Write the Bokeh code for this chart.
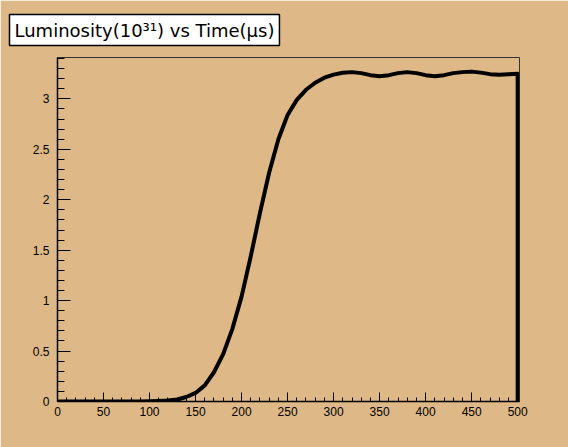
from bokeh.plotting import figure
from bokeh.models import Range1d, SingleIntervalTicker, Title
from bokeh.embed import file_html
from bokeh.resources import INLINE

# Data (time in µs, luminosity in 1e31)
time_us = [0, 10, 20, 30, 40, 50, 60, 70, 80, 90, 100, 110, 120, 130, 140, 150,
           160, 170, 180, 190, 200, 210, 220, 230, 240, 250, 260, 270, 280, 290,
           300, 310, 320, 330, 340, 350, 360, 370, 380, 390, 400, 410, 420, 430,
           440, 450, 460, 470, 480, 490, 500, 500]
luminosity = [0.0, 0.0, 0.0, 0.0, 0.0, 0.0, 0.0, 0.0, 0.0, 0.0, 0.002, 0.005, 0.01,
              0.02, 0.045, 0.085, 0.16, 0.29, 0.47, 0.72, 1.04, 1.44, 1.87, 2.27,
              2.6, 2.84, 2.99, 3.09, 3.16, 3.21, 3.24, 3.258, 3.265, 3.255, 3.235,
              3.225, 3.235, 3.255, 3.265, 3.255, 3.235, 3.225, 3.235, 3.255, 3.265,
              3.27, 3.26, 3.245, 3.24, 3.245, 3.25, 0.0]

title_text = "Luminosity(10\u00b3\u00b9) vs Time(\u00b5s)"

BG = "#deb887"
FONT = "Liberation Sans"
TFONT = "DejaVu Sans"

p = figure(width=568, height=447, output_backend="svg", toolbar_location=None,
           x_range=Range1d(0, 502), y_range=Range1d(0, 3.41),
           min_border_left=57, min_border_right=49, min_border_top=50,
           min_border_bottom=46)
p.title.visible = False
p.background_fill_color = BG
p.border_fill_color = BG
p.outline_line_color = "#333333"
p.outline_line_width = 1
p.grid.visible = False

p.xaxis.ticker = SingleIntervalTicker(interval=50, num_minor_ticks=5)
p.yaxis.ticker = SingleIntervalTicker(interval=0.5, num_minor_ticks=5)

for ax in (p.xaxis, p.yaxis):
    ax.axis_line_color = "black"
    ax.axis_line_width = 1.5
    ax.major_tick_out = 0
    ax.minor_tick_out = 0
    ax.major_tick_line_color = "black"
    ax.minor_tick_line_color = "black"
    ax.major_label_text_font = FONT
    ax.major_label_text_font_size = "12px"
    ax.major_label_text_color = "black"
p.xaxis.major_tick_in = 9
p.xaxis.minor_tick_in = 4
p.yaxis.major_tick_in = 13
p.yaxis.minor_tick_in = 7
p.xaxis.major_label_standoff = 5
p.yaxis.major_label_standoff = 8

p.line(time_us, luminosity, line_color="black", line_width=4, line_join="round")

# Boxed title above the frame
title = Title(text=title_text, text_font=TFONT, text_font_size="18px",
              text_font_style="normal", text_color="black",
              background_fill_color="white", border_line_color="black",
              border_line_width=1.5, padding=5, align="left",
              offset=-48, standoff=24)
p.add_layout(title, "above")

open("out.html", "w").write(file_html(p, INLINE))
